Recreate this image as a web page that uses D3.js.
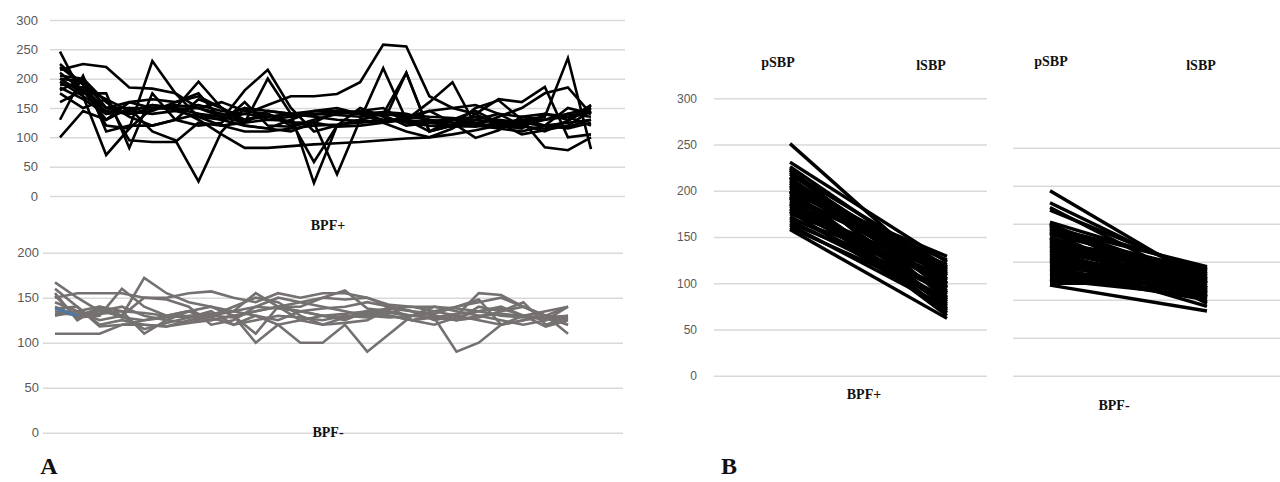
<!DOCTYPE html>
<html lang="en">
<head>
<meta charset="utf-8">
<title>BPF spaghetti plots</title>
<script src="https://d3js.org/d3.v7.min.js"></script>
<style>
  body { margin: 0; background: #fff; }
  .grid line { stroke: #d9d9d9; stroke-width: 1.5; }
  .grid text { fill: #595959; font-family: "Liberation Sans", Arial, sans-serif; }
  .lbl { font-family: "Liberation Serif", "Times New Roman", serif; font-weight: bold; fill: #111; text-anchor: middle; }
</style>
</head>
<body>
<div id="chart"></div>
<script>
// ---- data ----
// panel A, BPF+ (24 readings per patient)
var bpfPos = [
  [246,170, 70,115,150,148,150,140,130,135,140,145,145,143,140,138,135,133,130,125,128,130,135,145],
  [100,145,130,160,150,152,155,145,140,135,138,140,142,140,138,120,125,130,135,128,120,130,140,150],
  [130,205,110,120,120,130,165,150,120,115,110,125,118,120,125,130,145,150,155,140,120,110,128,150],
  [215,225,220,185,183,175,150,135,125,145,140,135,130,128,125,135,130,120,118,125,130,120,115,125],
  [200,175,175, 82,175,130,120,125,160,120,118,130,140,145,150,125,120,118,120,135,150,175,185,140],
  [225,190,120,115,230,175,135,120,125,130,128, 58,120,150,135,125,128,130,125,115,110,120,125,130],
  [210,180,130,150,110, 95, 25,110,150,145,140,138,145,140,143,140,130,125,122,120,118,115,128,155],
  [220,190,140,145,155,150,195,150,130,140,125,125,145,140,130,130,160,194,120,115,125,120,150,140],
  [180,200,160,135,120,130,140,130,180,215,150,110,120,130,125,110,100,115,140,165,160,186,100,105],
  [200,195,150,160,165,160,170,150,125,200,140, 22,120,130,140,210,110,120,130,140,135,130,140,135],
  [190,185,165, 95, 92, 92,125,120,110,110,115,120,122,125,128,130,125,120,125,130,125,120,118,130],
  [205,200,150,150,150,150,130,105, 82, 82, 85, 88, 90, 92, 95, 98,100,105,112,120,130, 83, 78,100],
  [175,150,165,145,140,145,135,130,140,155,170,170,174,194,258,255,170,150,140,120,115,140,135,120],
  [160,180,150,140,150,155,150,160,145,140,120,125, 37,130,218,130,110,120,150,163,130,135,235, 80],
  [195,170,145,140,145,160,175,130,120,115,130,145,150,140,125,210,110,130,145,125,105,112,120,145],
  [185,165,140,145,155,150,140,135,150,130,135,140,138,135,140,135,145,125, 99,112,135,140,130,155]
];
// panel A, BPF-
var bpfNeg = [
  [167,150,135,140,130,125,122,125,130,135,140,145,150,158,138,135,130,128,125,130,132,130,128,125],
  [160,140,120,125,120,118,125,130,128,135,140,140,150,148,150,140,135,132,140,145,150,140,130,110],
  [152,128,130,160,140,130,135,125,130,110,140,135,130,125,135,138,140,135,130,125,120,130,135,140],
  [150,155,155,155,150,150,155,157,150,145,155,150,155,155,150,142,140,140,138,135,130,128,128,130],
  [135,130,135,130,172,155,145,140,135,130,120,125,130,128,135,130,125,130,125,140,135,140,128,120],
  [130,135,140,135,110,125,135,140,130,100,120,100,100,120, 90,110,130,140,135,130,125,120,125,140],
  [110,110,110,120,120,118,122,130,140,150,145,130,120,128,132,130,125,128, 90,100,120,125,130,128],
  [140,130,138,128,125,130,135,128,120,125,130,128,125,130,128,140,135,125,130,155,153,140,130,140],
  [145,135,125,130,150,148,140,120,125,140,150,145,140,135,130,128,130,135,140,148,120,125,130,120],
  [132,132,132,135,133,130,128,130,135,140,138,135,130,132,135,133,130,128,132,135,138,130,125,130],
  [138,140,118,120,125,128,130,132,135,155,140,125,120,122,125,138,135,130,125,128,135,145,120,128],
  [155,125,140,130,115,122,128,135,120,130,125,135,138,140,145,140,125,120,128,135,140,130,118,125]
];
var bpfNegBlue = [138, 130];

// panel B: pSBP -> lSBP
var phases = ["pSBP", "lSBP"];
var posP = [251,231,226,222,220,218,215,212,210,208,205,203,200,198,196,194,192,190,188,185,183,180,178,177,175,168,165,160,158,200,
            224,214,206,199,193,186,181,172,170,163];
var posL = [100,123,110, 90,118,105, 72,115, 95, 85,112,100, 78,125,108, 88, 65,120, 98, 80,110, 92, 70,103,115, 84, 95, 84, 62,129,
             82, 96,117, 68,113, 76,104, 90,108, 74];
var negP = [200,187,182,179,166,164,162,160,158,156,155,153,150,148,146,145,143,140,138,136,135,133,130,128,126,125,122,120,118,116,115,112,110,108,107,105,103,100, 98,165,
            163,159,154,149,144,141,137,132,127,123,119,114,109,104,101];
var negL = [100,105, 95,110,115, 90, 85,118,100,108, 80,112, 95,102, 88,115,105, 92,110, 98, 85,116,100, 90,108, 75,112, 95,104, 88,110,100, 82,106, 96, 90,112,100, 70, 78,
            103, 93,113, 86,107, 97,117, 83,101, 91,114, 94,108, 86,116];

var ticksA1 = [0,50,100,150,200,250,300];
var ticksA2 = [0,50,100,150,200];
var ticksB = [0,50,100,150,200,250,300];

// ---- svg ----
var svg = d3.select("#chart").append("svg")
  .attr("width", 1280).attr("height", 482);

function grid(g, scale, ticks, x0, x1, pad, fs, labels) {
  var ax = d3.axisLeft(scale).tickValues(ticks).tickSize(-(x1 - x0)).tickPadding(pad);
  if (!labels) ax.tickFormat("");
  var a = g.append("g").attr("class", "grid")
    .attr("transform", "translate(" + x0 + ",0)").call(ax);
  a.select(".domain").remove();
  a.selectAll("text").style("font-size", fs + "px");
}

// ---- panel A top ----
var xA1 = d3.scaleLinear().domain([0, 23]).range([60, 591]);
var yA1 = d3.scaleLinear().domain([0, 300]).range([196, 20]);
grid(svg, yA1, ticksA1, 50, 625, 12, 13, true);
var lineA1 = d3.line().x(function(d, i) { return xA1(i); }).y(function(d) { return yA1(d); });
svg.append("g").selectAll("path").data(bpfPos).join("path")
  .attr("d", lineA1).attr("fill", "none").attr("stroke", "#000")
  .attr("stroke-width", 2.6).attr("stroke-linejoin", "miter");

// ---- panel A bottom ----
var xA2 = d3.scaleLinear().domain([0, 23]).range([55, 568]);
var yA2 = d3.scaleLinear().domain([0, 200]).range([432.7, 252.7]);
grid(svg, yA2, ticksA2, 43, 623, 4, 13, true);
var lineA2 = d3.line().x(function(d, i) { return xA2(i); }).y(function(d) { return yA2(d); });
svg.append("g").selectAll("path").data(bpfNeg).join("path")
  .attr("d", lineA2).attr("fill", "none").attr("stroke", "#767171")
  .attr("stroke-width", 2.6);
svg.append("path").datum(bpfNegBlue).attr("d", lineA2)
  .attr("fill", "none").attr("stroke", "#4a78a8").attr("stroke-width", 2.6);

svg.append("text").attr("class", "lbl").attr("x", 328).attr("y", 230).style("font-size", "14px").text("BPF+");
svg.append("text").attr("class", "lbl").attr("x", 328).attr("y", 437).style("font-size", "14px").text("BPF-");

// ---- panel B ----
var yB = d3.scaleLinear().domain([0, 300]).range([375.7, 98.3]);
var yBgrid = d3.scaleLinear().domain([0, 300]).range([375.7, 147.7]);
grid(svg, yB, ticksB, 714, 987, 17, 12, true);
grid(svg, yBgrid, ticksB, 1013, 1280, 0, 12, false);

var xB1 = d3.scalePoint().domain(phases).range([790, 947]);
var xB2 = d3.scalePoint().domain(phases).range([1050, 1207]);

function pairs(p, l) { return p.map(function(v, i) { return [v, l[i]]; }); }
function slope(xs) {
  return d3.line().x(function(d, i) { return xs(phases[i]); }).y(function(d) { return yB(d); });
}
svg.append("g").selectAll("path").data(pairs(posP, posL)).join("path")
  .attr("d", slope(xB1)).attr("fill", "none").attr("stroke", "#000").attr("stroke-width", 3.4);
svg.append("g").selectAll("path").data(pairs(negP, negL)).join("path")
  .attr("d", slope(xB2)).attr("fill", "none").attr("stroke", "#000").attr("stroke-width", 3.4);

svg.append("text").attr("class", "lbl").attr("x", 778).attr("y", 67).style("font-size", "14px").text("pSBP");
svg.append("text").attr("class", "lbl").attr("x", 931).attr("y", 70).style("font-size", "14px").text("lSBP");
svg.append("text").attr("class", "lbl").attr("x", 1051).attr("y", 66).style("font-size", "14px").text("pSBP");
svg.append("text").attr("class", "lbl").attr("x", 1201).attr("y", 70).style("font-size", "14px").text("lSBP");
svg.append("text").attr("class", "lbl").attr("x", 864).attr("y", 399).style("font-size", "14px").text("BPF+");
svg.append("text").attr("class", "lbl").attr("x", 1114).attr("y", 410).style("font-size", "14px").text("BPF-");

// panel letters
svg.append("text").attr("class", "lbl").attr("x", 49).attr("y", 474).style("font-size", "24px").text("A");
svg.append("text").attr("class", "lbl").attr("x", 729).attr("y", 474).style("font-size", "24px").text("B");
</script>
</body>
</html>
